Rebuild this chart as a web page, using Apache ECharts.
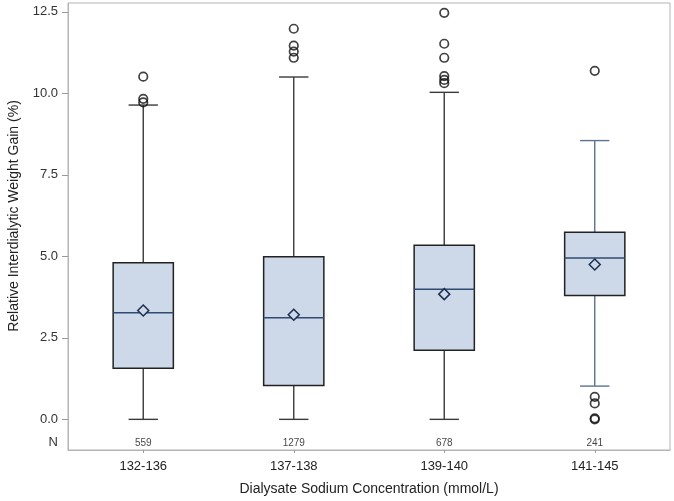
<!DOCTYPE html>
<html>
<head>
<meta charset="utf-8">
<script src="https://cdn.jsdelivr.net/npm/echarts@6/dist/echarts.min.js"></script>
<style>html,body{margin:0;padding:0;background:#fff}#c{width:674px;height:501px}</style>
</head>
<body>
<div id="c"></div>
<script>
// ---- data ----
var categories = ['132-136', '137-138', '139-140', '141-145'];
var nCounts = ['559', '1279', '678', '241'];
var lowerWhisker = [0.0, 0.0, 0.0, 1.02];
var q1 = [1.57, 1.04, 2.12, 3.80];
var median = [3.27, 3.12, 3.99, 4.95];
var q3 = [4.80, 4.99, 5.34, 5.74];
var upperWhisker = [9.64, 10.50, 10.03, 8.55];
var means = [3.34, 3.21, 3.84, 4.75];
var outliers0 = [10.51, 9.83, 9.72];
var outliers1 = [11.98, 11.46, 11.28, 11.09];
var outliers2 = [12.47, 11.52, 11.09, 10.53, 10.41, 10.31];
var outliers3 = [10.69, 0.69, 0.49, 0.03, 0.0];
var yTicks = [0, 2.5, 5, 7.5, 10, 12.5];
var nRowValue = -0.72;
var yTitle = 'Relative Interdialytic Weight Gain (%)';
var xTitle = 'Dialysate Sodium Concentration (mmol/L)';

// ---- styles ----
var whiskerColors = ['#3a3a3a', '#3a3a3a', '#3a3a3a', '#5b7391'];
var boxFill = '#cdd8e8';

var boxData = categories.map(function (c, i) {
  return [i, lowerWhisker[i], q1[i], median[i], q3[i], upperWhisker[i], means[i]];
});
var outlierData = [];
[outliers0, outliers1, outliers2, outliers3].forEach(function (arr, i) {
  arr.forEach(function (v) { outlierData.push([i, v]); });
});
var nData = nCounts.map(function (n, i) { return [i, nRowValue, n]; });

var chart = echarts.init(document.getElementById('c'));
var font = '"Liberation Sans", Arial, sans-serif';

chart.setOption({
  animation: false,
  textStyle: { fontFamily: font },
  grid: {
    left: 68, right: 4, top: 3, bottom: 51,
    show: true, borderColor: '#b4b4b4', borderWidth: 1, backgroundColor: '#fff'
  },
  graphic: [{
    type: 'text',
    x: 14, y: 216,
    rotation: Math.PI / 2,
    style: { text: yTitle, fontSize: 14, fill: '#222', fontFamily: font, align: 'center', verticalAlign: 'middle' }
  }],
  xAxis: {
    type: 'category',
    data: categories,
    boundaryGap: true,
    axisLine: { show: true, onZero: false, lineStyle: { color: '#b4b4b4' } },
    axisTick: { show: true, alignWithLabel: true, length: 3, lineStyle: { color: '#999' } },
    axisLabel: { fontSize: 13, color: '#222', margin: 10, fontFamily: font },
    splitLine: { show: false },
    name: xTitle,
    nameLocation: 'middle',
    nameGap: 32,
    nameTextStyle: { fontSize: 14, color: '#222', fontFamily: font }
  },
  yAxis: {
    type: 'value',
    min: -0.94,
    max: 12.77,
    axisLine: { show: true, lineStyle: { color: '#b4b4b4' } },
    axisTick: { show: true, length: 6, lineStyle: { color: '#999' }, customValues: yTicks },
    axisLabel: {
      fontSize: 13, color: '#333', margin: 10, fontFamily: font,
      customValues: yTicks.concat([nRowValue]),
      formatter: function (v) { return Math.abs(v - nRowValue) < 1e-6 ? 'N' : v.toFixed(1); }
    },
    splitLine: { show: false }
  },
  series: [
    {
      type: 'custom',
      data: boxData,
      encode: { x: 0, y: [1, 2, 3, 4, 5] },
      renderItem: function (params, api) {
        var i = api.value(0);
        var lw = api.value(1), a = api.value(2), m = api.value(3), b = api.value(4), uw = api.value(5), mn = api.value(6);
        var band = api.size([1, 0])[0];
        var bw = band * 0.40;
        var cw = band * 0.195;
        var cx = api.coord([i, 0])[0];
        var yLw = api.coord([i, lw])[1], yA = api.coord([i, a])[1], yM = api.coord([i, m])[1];
        var yB = api.coord([i, b])[1], yUw = api.coord([i, uw])[1], yMn = api.coord([i, mn])[1];
        var wc = whiskerColors[i];
        var d = 5.5;
        return {
          type: 'group',
          children: [
            { type: 'line', shape: { x1: cx, y1: yB, x2: cx, y2: yUw }, style: { stroke: wc, lineWidth: 1.4 } },
            { type: 'line', shape: { x1: cx, y1: yA, x2: cx, y2: yLw }, style: { stroke: wc, lineWidth: 1.4 } },
            { type: 'line', shape: { x1: cx - cw / 2, y1: yUw, x2: cx + cw / 2, y2: yUw }, style: { stroke: wc, lineWidth: 1.4 } },
            { type: 'line', shape: { x1: cx - cw / 2, y1: yLw, x2: cx + cw / 2, y2: yLw }, style: { stroke: wc, lineWidth: 1.4 } },
            { type: 'rect', shape: { x: cx - bw / 2, y: yB, width: bw, height: yA - yB }, style: { fill: boxFill, stroke: '#222', lineWidth: 1.5 } },
            { type: 'line', shape: { x1: cx - bw / 2, y1: yM, x2: cx + bw / 2, y2: yM }, style: { stroke: '#2f4b72', lineWidth: 1.5 } },
            { type: 'polygon', shape: { points: [[cx, yMn - d], [cx + d, yMn], [cx, yMn + d], [cx - d, yMn]] }, style: { fill: boxFill, stroke: '#1d2e50', lineWidth: 1.5 } }
          ]
        };
      },
      z: 2
    },
    {
      type: 'scatter',
      data: outlierData,
      symbol: 'circle',
      symbolSize: 8.5,
      itemStyle: { color: 'rgba(0,0,0,0)', borderColor: '#111', borderWidth: 1.7 },
      z: 3
    },
    {
      type: 'scatter',
      data: nData,
      symbolSize: 0,
      label: {
        show: true, position: 'inside', fontSize: 10, color: '#111', fontFamily: font,
        formatter: function (p) { return p.value[2]; }
      },
      z: 3
    }
  ]
});
</script>
</body>
</html>
